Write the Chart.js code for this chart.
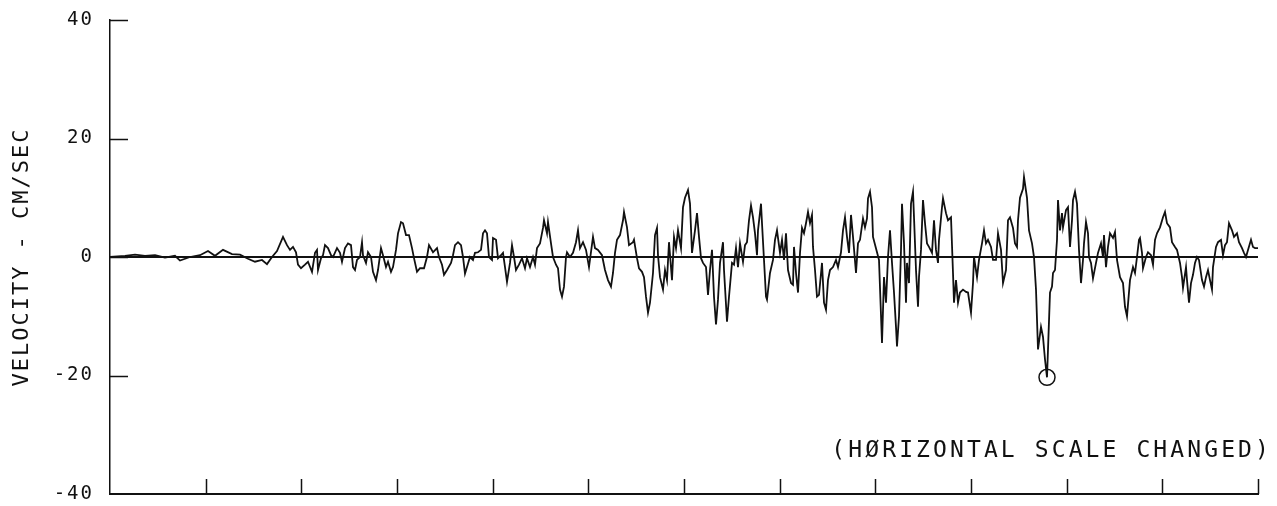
<!DOCTYPE html>
<html>
<head>
<meta charset="utf-8">
<script src="https://cdn.jsdelivr.net/npm/chart.js@4/dist/chart.umd.min.js"></script>
<style>
html,body{margin:0;padding:0;background:#fff;}
#wrap{width:1277px;height:506px;}
</style>
</head>
<body>
<div id="wrap"><canvas id="c" width="1277" height="506"></canvas></div>
<script>
// Sample position along the record (arbitrary horizontal units, full record = 1148)
const sampleTimes = [
  0,15,25,35,45,55,65,70,80,90,
  98,105,113,122,130,138,145,152,157,162,
  167,173,177,180,183,186,188,191,195,198,
  202,205,207,208,211,213,215,218,221,223,
  227,230,232,235,238,241,243,245,247,250,
  252,253,256,258,261,263,266,268,271,273,
  276,278,281,283,286,288,291,293,296,299,
  302,304,307,310,314,317,319,323,327,329,
  332,334,337,341,343,345,348,351,353,355,
  357,360,363,365,368,371,373,375,377,379,
  382,383,386,388,391,393,395,397,400,402,
  404,406,409,412,415,417,420,423,425,427,
  430,433,434,437,438,441,443,446,448,450,
  452,454,456,457,460,463,466,468,470,473,
  476,479,483,485,488,492,495,498,501,503,
  505,507,510,513,514,517,519,523,524,527,
  529,532,534,536,538,540,543,545,547,548,
  550,553,555,557,559,562,564,566,568,571,
  573,575,578,580,582,585,587,589,591,593,
  596,598,600,602,604,606,608,610,613,614,
  617,619,622,624,626,628,630,633,635,637,
  639,641,643,645,647,648,651,652,654,656,
  657,660,663,665,667,670,672,674,676,678,
  681,683,684,686,688,690,692,694,696,698,
  700,702,703,705,707,709,712,714,716,718,
  720,723,726,728,731,733,735,737,739,741,
  743,746,748,750,753,755,757,758,760,762,
  763,767,769,772,774,776,778,780,782,784,
  786,787,789,791,792,794,796,797,799,801,
  803,804,806,808,809,811,813,815,817,819,
  822,824,826,828,829,832,833,836,838,841,
  843,844,846,848,850,853,856,858,861,863,
  864,867,869,872,874,876,878,881,883,886,
  888,891,893,896,898,900,903,905,907,908,
  910,913,914,917,919,922,924,926,928,931,
  933,935,937,938,940,942,943,945,947,948,
  950,952,953,956,958,960,962,963,965,967,
  969,971,973,974,976,978,979,981,983,986,
  988,991,993,994,996,998,1000,1003,1005,1007,
  1010,1013,1015,1017,1020,1023,1025,1027,1029,1030,
  1032,1033,1036,1038,1041,1043,1045,1047,1050,1053,
  1055,1057,1060,1062,1065,1067,1070,1072,1073,1076,
  1077,1079,1081,1083,1085,1087,1089,1092,1094,1096,
  1098,1100,1102,1103,1106,1108,1111,1113,1115,1117,
  1119,1122,1124,1127,1129,1132,1134,1136,1138,1141,
  1143,1145,1148
];

// Velocity, cm/sec
const velocities = [
  0,0.2,0.4,0.2,0.3,-0.1,0.2,-0.6,0,0.3,
  1.0,0.2,1.2,0.5,0.4,-0.3,-0.8,-0.5,-1.2,0,
  1.0,3.4,2.0,1.2,1.7,0.8,-1.3,-1.9,-1.3,-0.8,
  -2.5,0.7,1.2,-2.2,-0.2,0.3,2.0,1.5,0.3,0,
  1.5,0.7,-0.8,1.5,2.3,2.0,-1.7,-2.2,-0.5,0,
  2.5,0.3,-1.0,0.8,0,-2.5,-3.9,-2.2,1.5,0.3,
  -1.7,-0.8,-2.5,-1.7,1.2,4.0,5.9,5.7,3.7,3.7,
  1.5,-0.2,-2.5,-1.9,-1.9,0,2.0,0.8,1.5,0,
  -1.3,-3.0,-2.2,-1.0,0.3,2.0,2.5,2.0,0,-2.8,
  -1.7,0,-0.5,0.7,0.8,1.2,4.0,4.5,4.0,0,
  -0.5,3.2,2.9,-0.2,0.3,0.7,-1.7,-4.2,-1.0,2.0,
  0,-2.2,-1.3,-0.2,-1.9,-0.2,-1.7,0,-1.3,1.5,
  2.3,4.9,6.2,4.0,5.9,2.3,0,-1.3,-1.9,-5.5,
  -6.7,-5.0,0,0.8,0,0.7,2.5,4.5,1.5,2.5,
  1.2,-1.7,3.4,1.5,1.2,0.3,-2.2,-3.9,-5.0,-2.7,
  0.7,2.9,3.7,6.2,7.6,5.0,2.0,2.5,2.9,-0.2,
  -1.9,-2.5,-3.4,-6.7,-9.4,-7.7,-2.7,3.7,4.9,0.3,
  -3.4,-5.5,-2.2,-3.9,2.5,-3.9,3.4,1.5,4.5,1.5,
  8.4,10.0,11.3,9.0,0.7,4.5,7.4,3.4,-0.2,-1.0,
  -1.7,-6.4,-2.2,1.2,-6.7,-11.4,-7.2,-1.0,2.5,-2.2,
  -10.9,-6.7,-1.0,-1.3,1.5,-1.7,2.3,-0.8,2.0,2.5,
  6.2,8.7,6.7,4.0,0.3,4.5,9.0,5.7,-0.5,-6.7,
  -7.2,-2.7,-0.5,2.9,4.5,0.7,2.9,-0.5,4.0,-2.2,
  -4.4,-4.7,1.7,-2.7,-6.0,0.7,4.9,4.0,5.7,7.6,
  5.7,7.1,1.7,-2.2,-6.7,-6.4,-1.0,-7.7,-8.9,-3.9,
  -2.2,-1.7,-0.5,-1.7,0.8,4.5,6.7,3.4,0.7,7.1,
  3.4,-2.7,2.3,2.9,6.5,5.0,6.5,9.9,11.0,8.4,
  3.4,0.8,-0.5,-14.5,-3.4,-7.7,0,4.5,-1.0,-6.0,
  -11.8,-15.1,-10.0,1.2,9.0,2.3,-7.7,-1.0,-4.4,9.0,
  11.0,6.7,-2.2,-8.4,-3.4,1.2,9.6,5.7,2.3,1.7,
  0.7,6.2,1.2,-1.0,2.9,8.4,9.9,7.4,6.2,6.7,
  -2.7,-7.7,-3.9,-7.7,-6.0,-5.5,-5.9,-6.0,-9.4,-4.4,
  0,-3.4,-0.5,2.3,4.5,2.3,2.9,1.7,-0.5,-0.5,
  4.0,1.2,-4.4,-2.2,6.2,6.7,4.9,2.3,1.7,6.2,
  10.0,11.5,13.5,10.0,4.5,2.3,0,-5.5,-15.6,-11.8,
  -13.5,-17.3,-20.3,-15.6,-6.0,-5.0,-2.7,-2.2,2.9,9.6,
  4.5,7.4,5.0,7.9,8.4,1.7,6.2,9.6,11.0,9.0,
  1.2,-4.4,-0.5,2.3,5.9,4.0,0,-1.0,-3.6,-1.0,
  0.7,2.3,0,3.7,-1.7,1.7,4.0,3.2,4.2,-0.5,
  -3.4,-4.4,-8.4,-10.0,-3.9,-1.7,-2.7,0,2.9,3.2,
  0.7,-1.9,0,0.8,0.3,-1.3,2.9,4.0,5.0,6.7,
  7.6,5.7,5.0,2.5,1.7,1.2,-1.0,-3.4,-5.2,-1.7,
  -3.9,-7.7,-4.4,-3.0,-1.0,0,-0.5,-3.9,-5.0,-3.4,
  -2.2,-3.9,-5.5,-1.7,1.7,2.5,2.9,0.3,2.0,2.5,
  5.7,4.5,3.4,4.0,2.5,1.5,0.7,0,1.2,2.9,
  1.7,1.5,1.5
];

const yTickValues = [-40, -20, 0, 20, 40];
const xRecordLength = 1148;
const xDivisions = 12;
const yAxisTitle = 'VELOCITY - CM/SEC';
const noteText = '(H\u00D8RIZONTAL SCALE CHANGED)';

const INK = '#111';
const FONT = '"DejaVu Sans Mono", "Liberation Mono", monospace';

const lineData = sampleTimes.map((t, i) => ({ x: t, y: velocities[i] }));
let minIdx = 0;
velocities.forEach((v, i) => { if (v < velocities[minIdx]) minIdx = i; });
const peakData = [{ x: sampleTimes[minIdx], y: velocities[minIdx] }];

const axisDecor = {
  id: 'axisDecor',
  beforeDraw(chart) {
    chart.ctx.letterSpacing = '2px';
  },
  afterDraw(chart) {
    const { ctx, chartArea: a } = chart;
    const xs = chart.scales.x, ys = chart.scales.y;
    ctx.save();
    ctx.strokeStyle = INK;
    ctx.lineWidth = 1.5;
    ctx.beginPath();
    xs.ticks.forEach(t => {
      if (t.value > xs.min) {
        const px = Math.round(xs.getPixelForValue(t.value)) + 0.5;
        ctx.moveTo(px, a.bottom);
        ctx.lineTo(px, a.bottom - 15);
      }
    });
    ys.ticks.forEach(t => {
      if (t.value > ys.min) {
        const py = Math.round(ys.getPixelForValue(t.value)) + 0.5;
        ctx.moveTo(a.left, py);
        ctx.lineTo(a.left + 18, py);
      }
    });
    ctx.stroke();
    ctx.letterSpacing = '3.1px';
    ctx.font = '23px ' + FONT;
    ctx.fillStyle = INK;
    ctx.textAlign = 'right';
    ctx.textBaseline = 'middle';
    ctx.fillText(noteText, a.right + 14, 451);
    ctx.restore();
  }
};

new Chart(document.getElementById('c'), {
  type: 'line',
  data: {
    datasets: [
      {
        data: lineData,
        borderColor: INK,
        borderWidth: 1.8,
        pointRadius: 0,
        tension: 0,
        fill: false
      },
      {
        data: peakData,
        showLine: false,
        pointRadius: 8,
        pointStyle: 'circle',
        pointBorderColor: INK,
        pointBackgroundColor: 'rgba(0,0,0,0)',
        pointBorderWidth: 1.5
      }
    ]
  },
  options: {
    responsive: false,
    animation: false,
    events: [],
    layout: { padding: { left: 0, right: 19, top: 20, bottom: 0 } },
    plugins: { legend: { display: false }, tooltip: { enabled: false } },
    scales: {
      x: {
        type: 'linear',
        min: 0,
        max: xRecordLength,
        afterBuildTicks(scale) {
          const ticks = [];
          for (let k = 0; k <= xDivisions; k++) ticks.push({ value: k * xRecordLength / xDivisions });
          scale.ticks = ticks;
        },
        afterFit(scale) {
          scale.height = 12;
          scale.paddingLeft = 0; scale.paddingRight = 0;
          scale.paddingTop = 0; scale.paddingBottom = 0;
        },
        ticks: { display: false },
        grid: { display: true, drawOnChartArea: false, drawTicks: false },
        border: { display: true, color: INK, width: 2 }
      },
      y: {
        type: 'linear',
        min: -40,
        max: 40,
        afterBuildTicks(scale) {
          scale.ticks = yTickValues.map(v => ({ value: v }));
        },
        afterFit(scale) {
          scale.width = 110;
          scale.paddingTop = 0; scale.paddingBottom = 0;
          scale.paddingLeft = 0; scale.paddingRight = 0;
        },
        ticks: {
          color: INK,
          padding: 16,
          font: { family: FONT, size: 19 },
          callback: v => String(v)
        },
        grid: {
          drawTicks: false,
          color: ctx => (ctx.tick && ctx.tick.value === 0 ? INK : 'rgba(0,0,0,0)'),
          lineWidth: ctx => (ctx.tick && ctx.tick.value === 0 ? 2 : 0)
        },
        border: { display: true, color: INK, width: 1.5 },
        title: {
          display: true,
          text: yAxisTitle,
          color: INK,
          font: { family: FONT, size: 22 },
          padding: { top: 9, bottom: 0 }
        }
      }
    }
  },
  plugins: [axisDecor]
});
</script>
</body>
</html>
